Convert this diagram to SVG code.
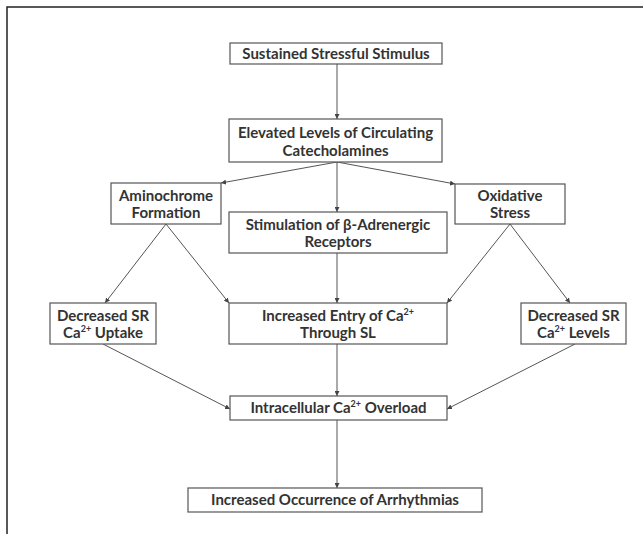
<svg xmlns="http://www.w3.org/2000/svg" width="643" height="534" viewBox="0 0 643 534">
<style>
.box{fill:#fff;stroke:#555;stroke-width:1.2}
.t{font-family:Lato,"Open Sans","Liberation Sans",sans-serif;font-weight:bold;font-size:15px;fill:#333;text-anchor:middle}
.sup{font-size:9px}
.c{stroke:#555;stroke-width:1;fill:none;marker-end:url(#ah)}
</style>
<defs>
<marker id="ah" viewBox="0 0 8 8" refX="8" refY="4" markerWidth="5" markerHeight="5" orient="auto" markerUnits="userSpaceOnUse">
<path d="M0,0 L8,4 L0,8 z" fill="#444"/>
</marker>
</defs>
<rect x="0" y="0" width="643" height="534" fill="#fff"/>
<path d="M7,534 V7 H643" stroke="#222" stroke-width="1.5" fill="none"/>
<g id="connectors">
<line class="c" x1="337" y1="64" x2="337" y2="119"/>
<line class="c" x1="337" y1="162" x2="221" y2="183"/>
<line class="c" x1="337" y1="162" x2="455" y2="184"/>
<line class="c" x1="337" y1="162" x2="337" y2="212"/>
<line class="c" x1="166" y1="224" x2="105" y2="303"/>
<line class="c" x1="166" y1="224" x2="229" y2="303"/>
<line class="c" x1="510" y1="224" x2="447" y2="303"/>
<line class="c" x1="510" y1="224" x2="570" y2="303"/>
<line class="c" x1="337" y1="253" x2="337" y2="303"/>
<line class="c" x1="103" y1="344" x2="230" y2="409"/>
<line class="c" x1="575" y1="344" x2="447" y2="409"/>
<line class="c" x1="337" y1="344" x2="337" y2="396"/>
<line class="c" x1="337" y1="420" x2="337" y2="488"/>
</g>
<g id="n1"><rect class="box" x="230" y="43" width="212" height="21"/><text class="t" x="336" y="59">Sustained Stressful Stimulus</text></g>
<g id="n2"><rect class="box" x="229" y="119" width="213" height="43"/><text class="t" x="335.5" y="138">Elevated Levels of Circulating</text><text class="t" x="335.5" y="156">Catecholamines</text></g>
<g id="n3"><rect class="box" x="111" y="183" width="110" height="41"/><text class="t" x="166" y="201">Aminochrome</text><text class="t" x="166" y="218">Formation</text></g>
<g id="n4"><rect class="box" x="455" y="184" width="110" height="40"/><text class="t" x="510" y="201">Oxidative</text><text class="t" x="510" y="218">Stress</text></g>
<g id="n5"><rect class="box" x="229" y="212" width="218" height="41"/><text class="t" x="338" y="230">Stimulation of β-Adrenergic</text><text class="t" x="338" y="247">Receptors</text></g>
<g id="n6"><rect class="box" x="50" y="303" width="106" height="41"/><text class="t" x="103" y="321">Decreased SR</text><text class="t" x="103" y="338">Ca<tspan class="sup" dy="-6">2+</tspan><tspan dy="6"> Uptake</tspan></text></g>
<g id="n7"><rect class="box" x="229" y="303" width="218" height="41"/><text class="t" x="338" y="321">Increased Entry of Ca<tspan class="sup" dy="-6">2+</tspan></text><text class="t" x="338" y="338">Through SL</text></g>
<g id="n8"><rect class="box" x="521" y="303" width="105" height="41"/><text class="t" x="573.5" y="321">Decreased SR</text><text class="t" x="573.5" y="338">Ca<tspan class="sup" dy="-6">2+</tspan><tspan dy="6"> Levels</tspan></text></g>
<g id="n9"><rect class="box" x="230" y="396" width="217" height="24"/><text class="t" x="338.5" y="413">Intracellular Ca<tspan class="sup" dy="-6">2+</tspan><tspan dy="6"> Overload</tspan></text></g>
<g id="n10"><rect class="box" x="188" y="488" width="294" height="24"/><text class="t" x="335" y="505">Increased Occurrence of Arrhythmias</text></g>
</svg>
